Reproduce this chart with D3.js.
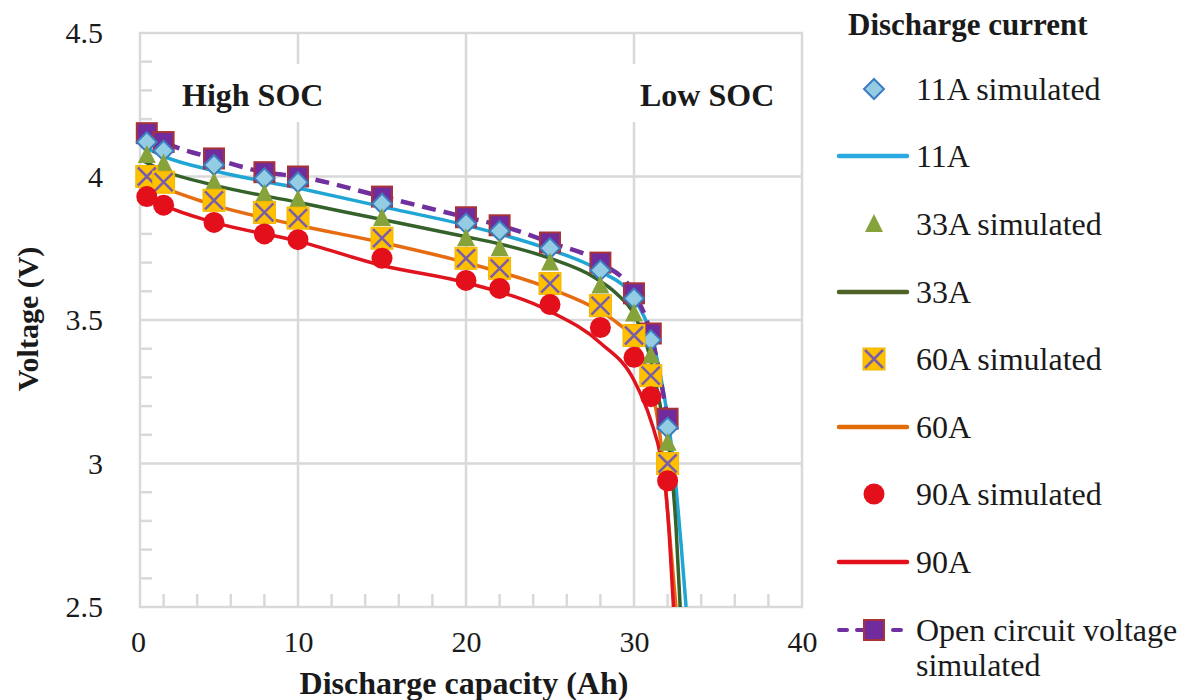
<!DOCTYPE html>
<html lang="en">
<head>
  <meta charset="UTF-8" />
  <title>Discharge curves</title>
  <script src="https://d3js.org/d3.v7.min.js"></script>
  <style>
    body { margin: 0; background: #fff; }
    svg { display: block; }
    svg text { font-family: "Liberation Serif", "Times New Roman", serif; fill: #1a1a1a; }
  </style>
</head>
<body>
  <div id="chart"></div>

  <script>
    // ---------- DATA ----------
    const simCap = [1, 2, 5, 8, 10, 15, 20, 22, 25, 28, 30, 31, 32];
    const sim11 = [4.12, 4.09, 4.04, 3.994, 3.98, 3.905, 3.836, 3.81, 3.75, 3.673, 3.575, 3.43, 3.125];
    const sim33 = [4.075, 4.045, 3.98, 3.94, 3.92, 3.855, 3.785, 3.75, 3.70, 3.62, 3.523, 3.376, 3.072];
    const sim60 = [4.0, 3.98, 3.917, 3.875, 3.855, 3.785, 3.715, 3.68, 3.627, 3.55, 3.446, 3.306, 3.0];
    const sim90 = [3.93, 3.90, 3.84, 3.80, 3.78, 3.715, 3.638, 3.61, 3.554, 3.474, 3.37, 3.233, 2.94];
    const ocvSim = [4.151, 4.12, 4.063, 4.015, 4.0, 3.93, 3.858, 3.83, 3.77, 3.70, 3.593, 3.453, 3.156];

    const cap11 = [0.6, 2, 5, 10, 15, 20, 25, 28, 30, 31, 31.6, 32.1, 32.5, 32.8, 33.1];
    const volt11 = [4.11, 4.07, 4.02, 3.96, 3.895, 3.83, 3.745, 3.67, 3.575, 3.45, 3.30, 3.12, 2.92, 2.72, 2.5];
    const cap33 = [0.6, 2, 5, 10, 15, 20, 22, 25, 27.6, 29, 30, 31, 31.6, 32.2, 32.5, 32.75];
    const volt33 = [4.06, 4.02, 3.97, 3.91, 3.85, 3.79, 3.765, 3.715, 3.65, 3.59, 3.52, 3.36, 3.19, 3.0, 2.78, 2.5];
    const cap60 = [0.6, 2, 5, 10, 15, 20, 25, 28, 29, 30, 31, 31.5, 31.9, 32.2, 32.5];
    const volt60 = [3.99, 3.96, 3.90, 3.83, 3.77, 3.70, 3.61, 3.53, 3.49, 3.43, 3.27, 3.12, 2.90, 2.70, 2.5];
    const cap90 = [0.6, 1, 2, 5, 10, 15, 20, 25, 28, 30, 31, 31.6, 31.9, 32.1, 32.35];
    const volt90 = [3.95, 3.93, 3.90, 3.84, 3.775, 3.69, 3.63, 3.53, 3.42, 3.29, 3.15, 3.02, 2.90, 2.75, 2.5];

    const xTicks = [0, 10, 20, 30, 40];
    const yTicks = [2.5, 3, 3.5, 4, 4.5];
    const legendLabels = ["11A simulated", "11A", "33A simulated", "33A", "60A simulated", "60A",
                          "90A simulated", "90A", "Open circuit voltage", "simulated"];

    // ---------- SETUP ----------
    const width = 1192, height = 700;
    const pLeft = 140, pRight = 802, pTop = 33, pBottom = 607;
    const serif = "Liberation Serif, Times New Roman, serif";
    const svg = d3.select("#chart").append("svg").attr("width", width).attr("height", height);

    const x = d3.scaleLinear().domain([0, 40]).range([130, pRight]);
    const y = d3.scaleLinear().domain([2.5, 4.5]).range([pBottom, pTop]);
    const grid = "#d9d9d9";

    svg.append("clipPath").attr("id", "clip")
      .append("rect").attr("x", pLeft).attr("y", pTop).attr("width", pRight - pLeft).attr("height", pBottom - pTop);

    // gridlines
    svg.append("g").selectAll("line").data([3, 3.5, 4]).join("line")
      .attr("x1", pLeft).attr("x2", pRight).attr("y1", d => y(d)).attr("y2", d => y(d))
      .attr("stroke", grid).attr("stroke-width", 2.5);
    svg.append("g").selectAll("line").data([10, 20, 30]).join("line")
      .attr("x1", d => x(d)).attr("x2", d => x(d)).attr("y1", pTop).attr("y2", pBottom)
      .attr("stroke", grid).attr("stroke-width", 2.5);

    // minor ticks
    const yMinor = d3.range(2.6, 4.5, 0.1).filter(v => Math.abs(v * 2 - Math.round(v * 2)) > 0.01);
    svg.append("g").selectAll("line").data(yMinor).join("line")
      .attr("x1", pLeft).attr("x2", pLeft + 12).attr("y1", d => y(d)).attr("y2", d => y(d))
      .attr("stroke", grid).attr("stroke-width", 2.5);
    const xMinor = d3.range(2, 40, 2).filter(v => v % 10 !== 0);
    svg.append("g").selectAll("line").data(xMinor).join("line")
      .attr("x1", d => x(d)).attr("x2", d => x(d)).attr("y1", pBottom).attr("y2", pBottom - 13)
      .attr("stroke", grid).attr("stroke-width", 2.5);

    // frame
    svg.append("rect").attr("x", pLeft).attr("y", pTop).attr("width", pRight - pLeft).attr("height", pBottom - pTop)
      .attr("fill", "none").attr("stroke", grid).attr("stroke-width", 2.5);

    // SOC labels with white boxes
    [["High SOC", 182, 176, 332], ["Low SOC", 640, 628, 786]].forEach(([t, tx, x0, x1]) => {
      svg.append("rect").attr("x", x0).attr("y", 64).attr("width", x1 - x0).attr("height", 58).attr("fill", "#fff");
      svg.append("text").attr("x", tx).attr("y", 106).text(t)
        .attr("font-family", serif).attr("font-size", 32).attr("font-weight", "bold");
    });

    // axes
    const xAxis = svg.append("g").attr("transform", `translate(0,${pBottom})`)
      .call(d3.axisBottom(x).tickValues(xTicks).tickSize(0).tickPadding(24).tickFormat(d3.format("")));
    xAxis.select(".domain").remove();
    xAxis.selectAll(".tick").filter(d => d === 0).select("text").attr("x", 8);

    const yAxis = svg.append("g").attr("transform", `translate(${pLeft},0)`)
      .call(d3.axisLeft(y).tickValues(yTicks).tickSize(0).tickPadding(37).tickFormat(d3.format("")));
    yAxis.select(".domain").remove();

    [xAxis, yAxis].forEach(a => a.attr("font-family", serif).attr("font-size", 30)
      .selectAll("text").attr("fill", "#222"));

    svg.append("text").attr("x", 464).attr("y", 694).attr("text-anchor", "middle")
      .attr("font-family", serif).attr("font-size", 32).attr("font-weight", "bold")
      .text("Discharge capacity (Ah)");
    svg.append("text").attr("transform", "translate(38,319) rotate(-90)").attr("text-anchor", "middle")
      .attr("font-family", serif).attr("font-size", 30).attr("font-weight", "bold")
      .text("Voltage (V)");

    // ---------- SERIES ----------
    const plot = svg.append("g").attr("clip-path", "url(#clip)");
    const line = d3.line().x(d => x(d[0])).y(d => y(d[1])).curve(d3.curveMonotoneX);

    const lines = [
      [cap11, volt11, "#1fa6d4"],
      [cap33, volt33, "#35612a"],
      [cap60, volt60, "#e66c12"],
      [cap90, volt90, "#e0141f"]
    ];
    lines.forEach(([cx, cv, col]) => {
      plot.append("path").datum(d3.zip(cx, cv)).attr("d", line)
        .attr("fill", "none").attr("stroke", col).attr("stroke-width", 3.5);
    });

    plot.append("path").datum(d3.zip(simCap, ocvSim)).attr("d", line)
      .attr("fill", "none").attr("stroke", "#7030a0").attr("stroke-width", 4.5)
      .attr("stroke-dasharray", "14,8");

    // marker drawing helpers
    const markers = {
      ocv: (g) => g.append("rect").attr("x", -10).attr("y", -10).attr("width", 20).attr("height", 20)
        .attr("fill", "#702c9c").attr("stroke", "#a93238").attr("stroke-width", 2),
      diamond: (g) => g.append("path").attr("d", "M0,-10L10,0L0,10L-10,0Z")
        .attr("fill", "#94cde3").attr("stroke", "#3c7dc0").attr("stroke-width", 2),
      triangle: (g) => g.append("path").attr("d", "M0,-10L9,8L-9,8Z").attr("fill", "#86a23a"),
      cross: (g) => {
        g.append("rect").attr("x", -11).attr("y", -11).attr("width", 22).attr("height", 22)
          .attr("fill", "#ffc000").attr("stroke", "#f2b600").attr("stroke-width", 1);
        g.append("path").attr("d", "M-9,-9L9,9M9,-9L-9,9").attr("stroke", "#7a5ea8").attr("stroke-width", 2.5);
      },
      circle: (g) => g.append("circle").attr("r", 10.5).attr("fill", "#e3101c")
    };

    const simSeries = [[ocvSim, "ocv"], [sim11, "diamond"], [sim33, "triangle"], [sim60, "cross"], [sim90, "circle"]];
    simSeries.forEach(([vals, kind]) => {
      svg.append("g").selectAll("g").data(d3.zip(simCap, vals)).join("g")
        .attr("transform", d => `translate(${x(d[0])},${y(d[1])})`)
        .each(function () { markers[kind](d3.select(this)); });
    });

    // ---------- LEGEND ----------
    const lg = svg.append("g").attr("font-family", serif);
    lg.append("text").attr("x", 848).attr("y", 35).attr("font-size", 31).attr("font-weight", "bold")
      .attr("font-family", serif).text("Discharge current");

    const rowY = [89, 156, 224, 292, 359, 427, 494, 562, 630, 665];
    const swatches = ["diamond", "#29a9e0", "triangle", "#4e6228", "cross", "#e36c0a", "circle", "#e3101c", "ocvline", null];
    legendLabels.forEach((t, i) => {
      lg.append("text").attr("x", 916).attr("y", rowY[i] + 11).attr("font-size", 32)
        .attr("font-family", serif).text(t);
      const s = swatches[i];
      if (s === null) return;
      const g = lg.append("g").attr("transform", `translate(874,${rowY[i]})`);
      if (s === "ocvline") {
        g.append("line").attr("x1", -35).attr("x2", 35).attr("stroke", "#7030a0")
          .attr("stroke-width", 4).attr("stroke-linecap", "round").attr("stroke-dasharray", "8,10");
        markers.ocv(g);
      } else if (s.startsWith("#")) {
        g.append("line").attr("x1", -35).attr("x2", 33).attr("stroke", s)
          .attr("stroke-width", 4.5).attr("stroke-linecap", "round");
      } else {
        markers[s](g);
      }
    });
  </script>
</body>
</html>
